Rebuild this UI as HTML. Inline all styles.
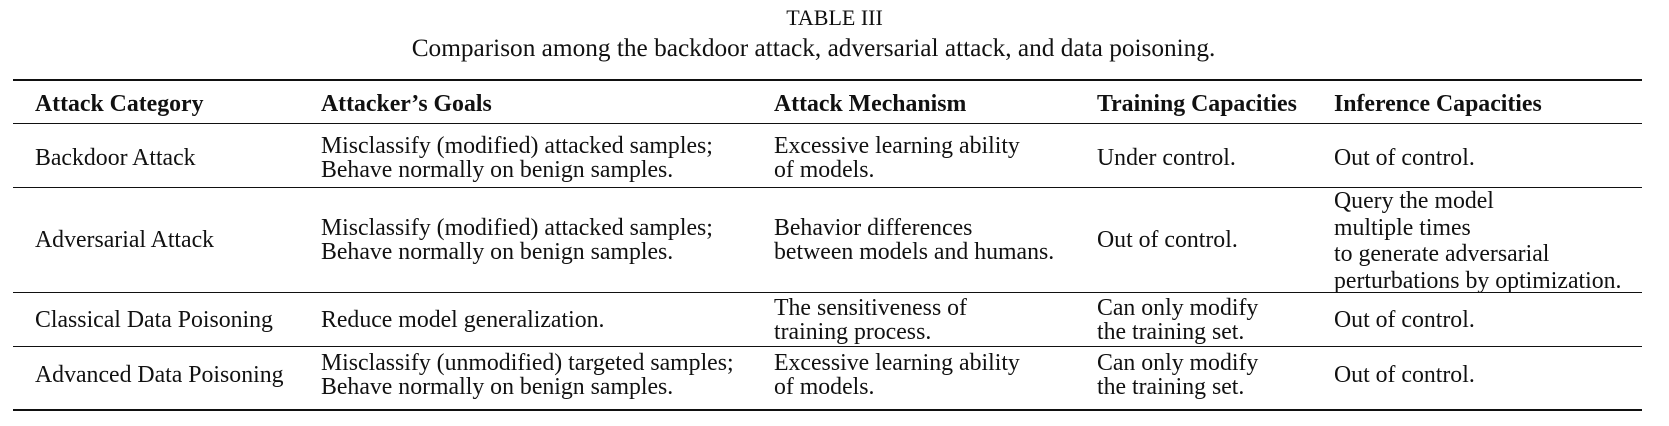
<!DOCTYPE html>
<html><head><meta charset="utf-8"><style>
body{margin:0;width:1669px;height:426px;background:#fff;position:relative;font-family:"Liberation Serif",serif;color:#111;overflow:hidden}
.t{position:absolute;font-size:23.8px;line-height:24px;white-space:nowrap}
.b{font-weight:bold}
.r{position:absolute;left:13px;width:1629px;background:#111}
.c{left:0;width:1669px;text-align:center}
</style></head><body>
<div class="t c" style="top:6px;font-size:22px">TABLE III</div>
<div class="t c" style="top:36px;font-size:25.3px;left:-21px">Comparison among the backdoor attack, adversarial attack, and data poisoning.</div>
<div class="r" style="top:79px;height:2px"></div>
<div class="t b" style="left:35px;top:92px">Attack Category</div>
<div class="t b" style="left:321px;top:92px">Attacker’s Goals</div>
<div class="t b" style="left:774px;top:92px">Attack Mechanism</div>
<div class="t b" style="left:1097px;top:92px">Training Capacities</div>
<div class="t b" style="left:1334px;top:92px">Inference Capacities</div>
<div class="r" style="top:123px;height:1px"></div>

<div class="t" style="left:35px;top:146px">Backdoor Attack</div>
<div class="t" style="left:321px;top:134px">Misclassify (modified) attacked samples;<br>Behave normally on benign samples.</div>
<div class="t" style="left:774px;top:134px">Excessive learning ability<br>of models.</div>
<div class="t" style="left:1097px;top:146px">Under control.</div>
<div class="t" style="left:1334px;top:146px">Out of control.</div>
<div class="r" style="top:187px;height:1px"></div>

<div class="t" style="left:35px;top:228px">Adversarial Attack</div>
<div class="t" style="left:321px;top:216px">Misclassify (modified) attacked samples;<br>Behave normally on benign samples.</div>
<div class="t" style="left:774px;top:216px">Behavior differences<br>between models and humans.</div>
<div class="t" style="left:1097px;top:228px">Out of control.</div>
<div class="t" style="left:1334px;top:188px;line-height:26.5px">Query the model<br>multiple times<br>to generate adversarial<br>perturbations by optimization.</div>
<div class="r" style="top:292px;height:1px"></div>

<div class="t" style="left:35px;top:308px">Classical Data Poisoning</div>
<div class="t" style="left:321px;top:308px">Reduce model generalization.</div>
<div class="t" style="left:774px;top:296px">The sensitiveness of<br>training process.</div>
<div class="t" style="left:1097px;top:296px">Can only modify<br>the training set.</div>
<div class="t" style="left:1334px;top:308px">Out of control.</div>
<div class="r" style="top:346px;height:1px"></div>

<div class="t" style="left:35px;top:363px">Advanced Data Poisoning</div>
<div class="t" style="left:321px;top:351px">Misclassify (unmodified) targeted samples;<br>Behave normally on benign samples.</div>
<div class="t" style="left:774px;top:351px">Excessive learning ability<br>of models.</div>
<div class="t" style="left:1097px;top:351px">Can only modify<br>the training set.</div>
<div class="t" style="left:1334px;top:363px">Out of control.</div>
<div class="r" style="top:409px;height:2px"></div>
</body></html>
